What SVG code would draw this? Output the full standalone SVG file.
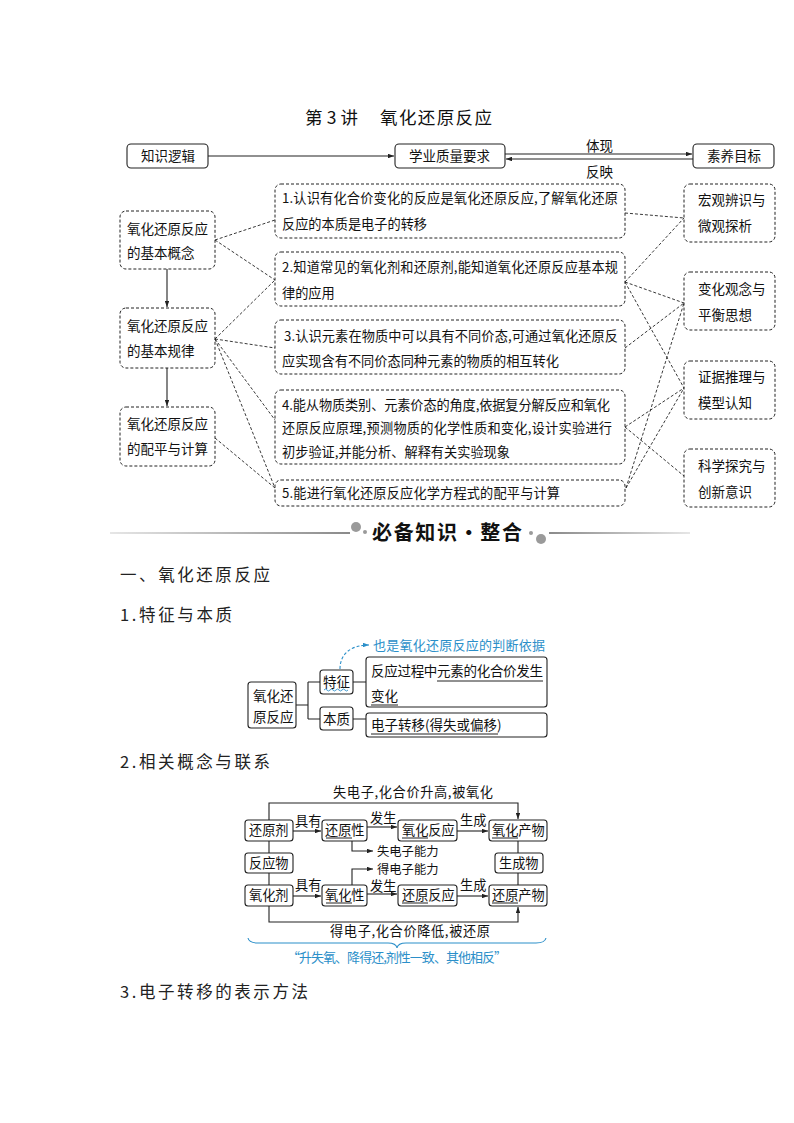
<svg xmlns="http://www.w3.org/2000/svg" width="794" height="1123" viewBox="0 0 794 1123">
<style>
text{font-family:"Noto Sans CJK SC","Liberation Sans",sans-serif;fill:#111;}
.t13{font-size:13.2px;}
.t12{font-size:12.3px;}
.t14{font-size:13.5px;}
.h{font-size:16.5px;fill:#222;}
.blue{fill:#2b8fc9;font-size:13px;}
.box{fill:#fff;stroke:#222;stroke-width:1.1;}
.dbox{fill:#fff;stroke:#222;stroke-width:1;stroke-dasharray:3 2;}
.dl{fill:none;stroke:#222;stroke-width:0.9;stroke-dasharray:3 2;}
.ln{fill:none;stroke:#222;stroke-width:1.1;}
.ul{fill:none;stroke:#222;stroke-width:1;}
</style>
<defs>
<marker id="arr" viewBox="0 0 8 6" refX="8" refY="3" markerWidth="6" markerHeight="4.5" orient="auto" markerUnits="userSpaceOnUse"><path d="M0,0 L8,3 L0,6 Z" fill="#222"/></marker>
<marker id="arrb" viewBox="0 0 8 6" refX="8" refY="3" markerWidth="6" markerHeight="4.5" orient="auto" markerUnits="userSpaceOnUse"><path d="M0,0 L8,3 L0,6 Z" fill="#2b8fc9"/></marker>
<linearGradient id="gl" x1="0" x2="1" y1="0" y2="0"><stop offset="0" stop-color="#e6e6e6"/><stop offset="1" stop-color="#8a8a8a"/></linearGradient>
<linearGradient id="gr" x1="0" x2="1" y1="0" y2="0"><stop offset="0" stop-color="#8a8a8a"/><stop offset="1" stop-color="#e6e6e6"/></linearGradient>
</defs>

<!-- Title -->
<g id="title">
<text x="305" y="124" style="font-size:17.5px" textLength="53">第 3 讲</text>
<text x="380" y="124" style="font-size:17.5px" textLength="112">氧化还原反应</text>
</g>

<!-- Header row -->
<g id="n-zhishi"><rect class="box" x="127" y="144" width="81" height="24" rx="4"/><text class="t14" x="141" y="161">知识逻辑</text></g>
<g id="n-xueye"><rect class="box" x="395" y="144" width="110" height="24" rx="4"/><text class="t14" x="409" y="161">学业质量要求</text></g>
<g id="n-suyang"><rect class="box" x="693" y="144" width="81" height="24" rx="4"/><text class="t14" x="707" y="161">素养目标</text></g>

<!-- Left column -->
<g id="n-A"><rect class="dbox" x="120" y="211" width="95" height="58" rx="6"/><text class="t14" x="127" y="234">氧化还原反应</text><text class="t14" x="127" y="258">的基本概念</text></g>
<g id="n-B"><rect class="dbox" x="120" y="308" width="95" height="60" rx="6"/><text class="t14" x="127" y="331">氧化还原反应</text><text class="t14" x="127" y="356">的基本规律</text></g>
<g id="n-C"><rect class="dbox" x="120" y="407" width="95" height="59" rx="6"/><text class="t14" x="127" y="429">氧化还原反应</text><text class="t14" x="127" y="454">的配平与计算</text></g>

<!-- Middle boxes -->
<g id="n-1"><rect class="dbox" x="275" y="184" width="350" height="54" rx="6"/>
<text class="t13" x="282" y="203" textLength="336">1.认识有化合价变化的反应是氧化还原反应,了解氧化还原</text>
<text class="t13" x="282" y="229">反应的本质是电子的转移</text></g>
<g id="n-2"><rect class="dbox" x="275" y="252" width="350" height="54" rx="6"/>
<text class="t13" x="282" y="272" textLength="336">2.知道常见的氧化剂和还原剂,能知道氧化还原反应基本规</text>
<text class="t13" x="282" y="298">律的应用</text></g>
<g id="n-3"><rect class="dbox" x="275" y="320" width="350" height="54" rx="6"/>
<text class="t13" x="284" y="341" textLength="334">3.认识元素在物质中可以具有不同价态,可通过氧化还原反</text>
<text class="t13" x="282" y="366">应实现含有不同价态同种元素的物质的相互转化</text></g>
<g id="n-4"><rect class="dbox" x="275" y="390" width="350" height="74" rx="6"/>
<text class="t13" x="282" y="410" textLength="328">4.能从物质类别、元素价态的角度,依据复分解反应和氧化</text>
<text class="t13" x="282" y="433" textLength="330">还原反应原理,预测物质的化学性质和变化,设计实验进行</text>
<text class="t13" x="282" y="457" textLength="228">初步验证,并能分析、解释有关实验现象</text></g>
<g id="n-5"><rect class="dbox" x="275" y="480" width="350" height="26" rx="6"/>
<text class="t13" x="282" y="498" textLength="278">5.能进行氧化还原反应化学方程式的配平与计算</text></g>

<!-- Right column -->
<g id="n-hongguan"><rect class="dbox" x="684" y="184" width="91" height="58" rx="6"/><text class="t14" x="698" y="205">宏观辨识与</text><text class="t14" x="698" y="231">微观探析</text></g>
<g id="n-bianhua"><rect class="dbox" x="684" y="272" width="91" height="58" rx="6"/><text class="t14" x="698" y="294">变化观念与</text><text class="t14" x="698" y="320">平衡思想</text></g>
<g id="n-zhengju"><rect class="dbox" x="684" y="361" width="91" height="58" rx="6"/><text class="t14" x="698" y="382">证据推理与</text><text class="t14" x="698" y="408">模型认知</text></g>
<g id="n-kexue"><rect class="dbox" x="684" y="449" width="91" height="58" rx="6"/><text class="t14" x="698" y="471">科学探究与</text><text class="t14" x="698" y="497">创新意识</text></g>

<!-- Connectors (top) -->
<g id="connectors-top">
<line class="ln" x1="208" y1="156" x2="394" y2="156" stroke-width="0.9" marker-end="url(#arr)"/>
<line class="ln" x1="505" y1="154" x2="692" y2="154" stroke-width="0.9" marker-end="url(#arr)"/>
<line class="ln" x1="693" y1="159" x2="506" y2="159" stroke-width="0.9" marker-end="url(#arr)"/>
<text class="t14" x="586" y="151">体现</text>
<text class="t14" x="586" y="177">反映</text>
<line class="ln" x1="167" y1="269" x2="167" y2="307" stroke-width="0.9" marker-end="url(#arr)"/>
<line class="ln" x1="167" y1="368" x2="167" y2="406" stroke-width="0.9" marker-end="url(#arr)"/>
<line class="dl" x1="215" y1="240" x2="275" y2="220"/>
<line class="dl" x1="215" y1="240" x2="275" y2="280"/>
<line class="dl" x1="215" y1="339" x2="275" y2="280"/>
<line class="dl" x1="215" y1="339" x2="275" y2="348"/>
<line class="dl" x1="215" y1="339" x2="275" y2="420"/>
<line class="dl" x1="215" y1="339" x2="275" y2="488"/>
<line class="dl" x1="215" y1="438" x2="275" y2="488"/>
<line class="dl" x1="625" y1="213" x2="684" y2="218"/>
<line class="dl" x1="625" y1="282" x2="684" y2="218"/>
<line class="dl" x1="625" y1="282" x2="684" y2="303"/>
<line class="dl" x1="625" y1="282" x2="684" y2="388"/>
<line class="dl" x1="625" y1="348" x2="684" y2="303"/>
<line class="dl" x1="625" y1="427" x2="684" y2="388"/>
<line class="dl" x1="625" y1="427" x2="684" y2="476"/>
<line class="dl" x1="626" y1="488" x2="684" y2="303"/>
<line class="dl" x1="626" y1="488" x2="684" y2="388"/>
</g>

<!-- Banner -->
<g id="banner">
<rect x="110" y="532" width="240" height="2" fill="url(#gl)"/>
<rect x="549" y="532" width="141" height="2" fill="url(#gr)"/>
<circle cx="356" cy="527" r="5" fill="#9a9a9a"/>
<circle cx="365" cy="532" r="2" fill="#9a9a9a"/>
<text x="372" y="540" style="font-size:20px;font-weight:700;font-family:'Noto Sans CJK SC',serif" textLength="150">必备知识·整合</text>
<circle cx="531" cy="533" r="2" fill="#9a9a9a"/>
<circle cx="541" cy="539" r="5" fill="#9a9a9a"/>
</g>

<!-- Headings -->
<g id="headings">
<text class="h" x="120" y="581" textLength="150">一、氧化还原反应</text>
<text class="h" x="120" y="621" textLength="112">1.特征与本质</text>
<text class="h" x="120" y="768" textLength="150">2.相关概念与联系</text>
<text class="h" x="120" y="998" textLength="188">3.电子转移的表示方法</text>
</g>

<!-- Diagram 1 -->
<g id="d1-connectors">
<path class="ln" d="M296,705 H308 M308,682 V719 M308,682 H320 M308,719 H320 M353,682 H366 M353,719 H366"/>
<path d="M340,669 C340,653 352,645 369,645" fill="none" stroke="#2b8fc9" stroke-width="1.1" stroke-dasharray="3 2" marker-end="url(#arrb)"/>
</g>
<g id="d1-root"><rect class="box" x="248" y="682" width="48" height="46" rx="3"/><text class="t14" x="253" y="701">氧化还</text><text class="t14" x="253" y="722">原反应</text></g>
<g id="d1-tezheng"><rect class="box" x="320" y="670" width="33" height="24" rx="3"/><text class="t14" x="323" y="687">特征</text>
<path d="M324,690 q1.5,-2 3,0 t3,0 t3,0 t3,0 t3,0 t3,0 t3,0 t3,0" fill="none" stroke="#2b8fc9" stroke-width="0.9"/></g>
<g id="d1-benzhi"><rect class="box" x="320" y="707" width="33" height="23" rx="3"/><text class="t14" x="323" y="724">本质</text></g>
<g id="d1-b1"><rect class="box" x="366" y="657" width="181" height="50" rx="3"/>
<text class="t14" x="371" y="676" textLength="172">反应过程中元素的化合价发生</text>
<text class="t14" x="371" y="701">变化</text>
<path class="ul" d="M437,681 H543 M371,705 H398"/></g>
<g id="d1-b2"><rect class="box" x="366" y="713" width="181" height="24" rx="3"/>
<text class="t14" x="371" y="730">电子转移(得失或偏移)</text>
<path class="ul" d="M371,734 H498"/></g>
<g id="d1-note"><text class="blue" x="373" y="650" textLength="172">也是氧化还原反应的判断依据</text></g>

<!-- Diagram 2 connectors -->
<g id="d2-connectors">
<path class="ln" d="M269,820 V803 H518 V819" marker-end="url(#arr)"/>
<path class="ln" d="M269,906 V922 H518 V907" marker-end="url(#arr)"/>
<path class="ln" d="M269,841 V885"/>
<path class="ln" d="M518,841 V885"/>
<line class="ln" x1="293" y1="831" x2="321" y2="831" marker-end="url(#arr)"/>
<line class="ln" x1="367" y1="827" x2="397" y2="827" marker-end="url(#arr)"/>
<line class="ln" x1="457" y1="831" x2="488" y2="831" marker-end="url(#arr)"/>
<line class="ln" x1="293" y1="896" x2="321" y2="896" marker-end="url(#arr)"/>
<line class="ln" x1="367" y1="894" x2="397" y2="894" marker-end="url(#arr)"/>
<line class="ln" x1="457" y1="896" x2="488" y2="896" marker-end="url(#arr)"/>
<path class="ln" d="M352,841 V851 H373" marker-end="url(#arr)"/>
<path class="ln" d="M352,885 V869 H373" marker-end="url(#arr)"/>
<text class="t13" x="295" y="826">具有</text>
<text class="t13" x="370" y="823">发生</text>
<text class="t13" x="460" y="825">生成</text>
<text class="t13" x="295" y="890">具有</text>
<text class="t13" x="370" y="891">发生</text>
<text class="t13" x="460" y="890">生成</text>
<text class="t12" x="377" y="856">失电子能力</text>
<text class="t12" x="377" y="874">得电子能力</text>
<text class="t13" x="333" y="797" textLength="160">失电子,化合价升高,被氧化</text>
<text class="t13" x="330" y="936" textLength="160">得电子,化合价降低,被还原</text>
</g>
<g id="d2-huanyuanji"><rect class="box" x="245" y="820" width="48" height="21" rx="3"/><text class="t13" x="249" y="835">还原剂</text></g>
<g id="d2-huanyuanxing"><rect class="box" x="322" y="820" width="45" height="21" rx="3"/><text class="t13" x="325" y="835">还原性</text><path class="ul" d="M326,838 H352"/></g>
<g id="d2-yanghuafanying"><rect class="box" x="398" y="820" width="59" height="21" rx="3"/><text class="t13" x="402" y="835">氧化反应</text><path class="ul" d="M402,838 H428"/></g>
<g id="d2-yanghuachanwu"><rect class="box" x="489" y="820" width="58" height="21" rx="3"/><text class="t13" x="492" y="835">氧化产物</text><path class="ul" d="M492,838 H518"/></g>
<g id="d2-fanyingwu"><rect class="box" x="245" y="853" width="48" height="20" rx="3"/><text class="t13" x="249" y="868">反应物</text></g>
<g id="d2-shengchengwu"><rect class="box" x="495" y="853" width="48" height="20" rx="3"/><text class="t13" x="499" y="868">生成物</text></g>
<g id="d2-yanghuaji"><rect class="box" x="245" y="885" width="48" height="21" rx="3"/><text class="t13" x="249" y="900">氧化剂</text></g>
<g id="d2-yanghuaxing"><rect class="box" x="322" y="885" width="45" height="21" rx="3"/><text class="t13" x="325" y="900">氧化性</text><path class="ul" d="M326,903 H352"/></g>
<g id="d2-huanyuanfanying"><rect class="box" x="398" y="885" width="59" height="21" rx="3"/><text class="t13" x="402" y="900">还原反应</text><path class="ul" d="M402,903 H428"/></g>
<g id="d2-huanyuanchanwu"><rect class="box" x="489" y="885" width="58" height="21" rx="3"/><text class="t13" x="492" y="900">还原产物</text><path class="ul" d="M492,903 H518"/></g>
<g id="d2-brace">
<path d="M248,938 Q249,943 258,943 H388 Q396,943 397,948 Q398,943 406,943 H536 Q545,943 546,938" fill="none" stroke="#2b8fc9" stroke-width="1.1"/>
<text class="blue" x="287" y="962" textLength="220">“升失氧、降得还,剂性一致、其他相反”</text>
</g>
</svg>
